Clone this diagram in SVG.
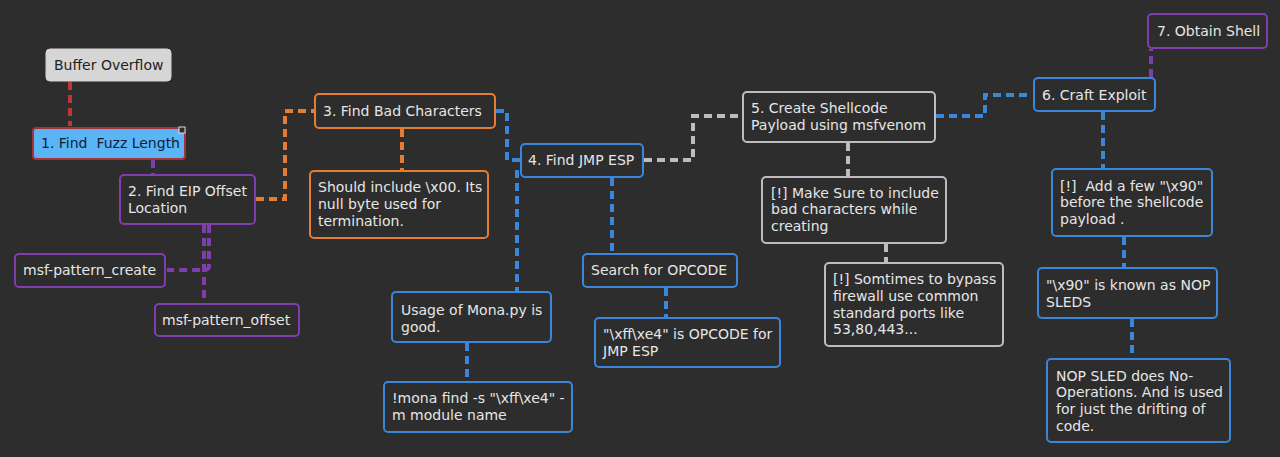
<svg xmlns="http://www.w3.org/2000/svg" width="1280" height="457" viewBox="0 0 1280 457">
<style>
text{font-family:"DejaVu Sans","Liberation Sans",sans-serif;font-size:14px;fill:#e6e6e6;white-space:pre}
.box{fill:#2d2d2d;stroke-width:2}
.c{fill:none;stroke-width:4;stroke-dasharray:8 5}
.red{stroke:#c0353a}.pur{stroke:#7e3eaf}.org{stroke:#e57c35}.blu{stroke:#3a87d8}.gry{stroke:#bdbdbd}
</style>
<rect width="1280" height="457" fill="#2d2d2d"/>
<g id="connectors">
<path class="c red" d="M70,82V126"/>
<path class="c pur" d="M153,160V174"/>
<path class="c pur" d="M204,225V303"/>
<path class="c pur" d="M209,225V266Q209,270 204,270H167"/>
<path class="c org" d="M256,199H285V111H314"/>
<path class="c org" d="M402,129V170"/>
<path class="c blu" d="M496,111H507V160H520"/>
<path class="c blu" d="M517,170V291"/>
<path class="c blu" d="M612,178V253"/>
<path class="c blu" d="M666,288V317"/>
<path class="c blu" d="M467,343V381"/>
<path class="c gry" d="M644,160H693V116H742"/>
<path class="c gry" d="M848,143V176"/>
<path class="c gry" d="M886,244V262"/>
<path class="c blu" d="M936,116H985V95H1032"/>
<path class="c pur" d="M1151,77V49"/>
<path class="c blu" d="M1103,112V168"/>
<path class="c blu" d="M1124,237V267"/>
<path class="c blu" d="M1132,319V358"/>
</g>
<g id="n0"><rect x="46" y="49" width="125" height="32" rx="4" fill="#d6d6d6" stroke="#d6d6d6"/><text x="54" y="70" style="fill:#222">Buffer Overflow</text></g>
<g id="n1"><rect x="33" y="128" width="152" height="31" rx="3" fill="#5bb4f4" stroke="#a8303a" stroke-width="2"/><text x="41" y="148" style="fill:#0d2040">1. Find  Fuzz Length</text><rect x="179" y="127" width="6" height="6" fill="#2d2d2d" stroke="#ddd" stroke-width="1"/></g>
<g id="n2"><rect class="box pur" x="120" y="175" width="135" height="49" rx="4"/><text x="128" y="196">2. Find EIP Offset</text><text x="128" y="213">Location</text></g>
<g id="n2a"><rect class="box pur" x="15" y="254" width="150" height="33" rx="4"/><text x="23" y="275">msf-pattern_create</text></g>
<g id="n2b"><rect class="box pur" x="155" y="304" width="144" height="32" rx="4"/><text x="162" y="325">msf-pattern_offset</text></g>
<g id="n3"><rect class="box org" x="315" y="94" width="180" height="34" rx="4"/><text x="323" y="116">3. Find Bad Characters</text></g>
<g id="n3a"><rect class="box org" x="310" y="171" width="178" height="67" rx="4"/><text x="318" y="192">Should include \x00. Its</text><text x="318" y="209">null byte used for</text><text x="318" y="226">termination.</text></g>
<g id="n4"><rect class="box blu" x="521" y="144" width="122" height="33" rx="4"/><text x="528" y="165">4. Find JMP ESP</text></g>
<g id="n4a"><rect class="box blu" x="583" y="254" width="154" height="33" rx="4"/><text x="591" y="275">Search for OPCODE</text></g>
<g id="n4b"><rect class="box blu" x="595" y="318" width="185" height="49" rx="4"/><text x="603" y="339">"\xff\xe4" is OPCODE for</text><text x="603" y="356">JMP ESP</text></g>
<g id="n4c"><rect class="box blu" x="392" y="292" width="159" height="50" rx="4"/><text x="401" y="315">Usage of Mona.py is</text><text x="401" y="332">good.</text></g>
<g id="n4d"><rect class="box blu" x="384" y="382" width="188" height="50" rx="4"/><text x="392" y="403">!mona find -s "\xff\xe4" -</text><text x="392" y="420">m module name</text></g>
<g id="n5"><rect class="box gry" x="743" y="92" width="192" height="50" rx="4"/><text x="751" y="113">5. Create Shellcode</text><text x="751" y="130">Payload using msfvenom</text></g>
<g id="n5a"><rect class="box gry" x="762" y="177" width="184" height="66" rx="4"/><text x="771" y="198">[!] Make Sure to include</text><text x="771" y="214">bad characters while</text><text x="771" y="231">creating</text></g>
<g id="n5b"><rect class="box gry" x="825" y="263" width="178" height="83" rx="4"/><text x="833" y="284">[!] Somtimes to bypass</text><text x="833" y="301">firewall use common</text><text x="833" y="318">standard ports like</text><text x="833" y="334">53,80,443...</text></g>
<g id="n6"><rect class="box blu" x="1034" y="78" width="121" height="33" rx="4"/><text x="1042" y="100">6. Craft Exploit</text></g>
<g id="n7"><rect class="box pur" x="1148" y="14" width="119" height="34" rx="4"/><text x="1157" y="36">7. Obtain Shell</text></g>
<g id="n6a"><rect class="box blu" x="1052" y="169" width="160" height="67" rx="4"/><text x="1060" y="191">[!]  Add a few "\x90"</text><text x="1060" y="207">before the shellcode</text><text x="1060" y="224">payload .</text></g>
<g id="n6b"><rect class="box blu" x="1038" y="268" width="179" height="50" rx="4"/><text x="1046" y="290">"\x90" is known as NOP</text><text x="1046" y="307">SLEDS</text></g>
<g id="n6c"><rect class="box blu" x="1047" y="359" width="183" height="83" rx="4"/><text x="1056" y="381">NOP SLED does No-</text><text x="1056" y="397">Operations. And is used</text><text x="1056" y="414">for just the drifting of</text><text x="1056" y="431">code.</text></g>
</svg>
